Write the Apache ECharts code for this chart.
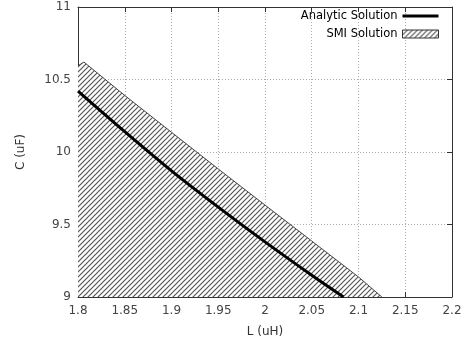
<!DOCTYPE html>
<html>
<head>
<meta charset="utf-8">
<script src="https://cdn.jsdelivr.net/npm/echarts@6/dist/echarts.min.js"></script>
<style>
  html, body { margin: 0; padding: 0; background: #fff; }
  #chart { width: 468px; height: 346px; }
</style>
</head>
<body>
<div id="chart"></div>
<script>
// analytic solution
const analyticL = [1.8, 1.85, 1.9, 1.95, 2.0, 2.05, 2.084];
const analyticC = [10.42, 10.14, 9.87, 9.62, 9.38, 9.15, 9.0];

// upper edge of the SMI band (filled down to the bottom axis)
const smiL = [1.8, 1.8064, 1.85, 1.9, 1.95, 2.0, 2.05, 2.1, 2.125];
const smiC = [10.595, 10.62, 10.39, 10.136, 9.883, 9.634, 9.386, 9.138, 9.0];

const xTicks = [1.8, 1.85, 1.9, 1.95, 2.0, 2.05, 2.1, 2.15, 2.2];
const yTicks = [9, 9.5, 10, 10.5, 11];

const font = "DejaVu Sans";
const axisColor = "#333";

// hatch pattern "////"
function makeHatch() {
  const s = 5;
  const c = document.createElement("canvas");
  c.width = s;
  c.height = s;
  const ctx = c.getContext("2d");
  ctx.fillStyle = "#fff";
  ctx.fillRect(0, 0, s, s);
  ctx.strokeStyle = "#555";
  ctx.lineWidth = 1.2;
  ctx.beginPath();
  ctx.moveTo(-1, 1); ctx.lineTo(1, -1);
  ctx.moveTo(0, s); ctx.lineTo(s, 0);
  ctx.moveTo(s - 1, s + 1); ctx.lineTo(s + 1, s - 1);
  ctx.stroke();
  return c;
}
const hatch = { image: makeHatch(), repeat: "repeat" };

const chart = echarts.init(document.getElementById("chart"));

const splitLine = { show: true, lineStyle: { color: "#aaa", type: [1, 2], width: 1 } };

const fmt = v => {
  const t = xTicks.concat(yTicks).find(k => Math.abs(k - v) < 1e-9);
  return t === undefined ? "" : String(+t.toFixed(2));
};

// thin bar inside the legend box (tiny corner dots keep the box size)
const lineIcon = "path://M0,0H0.01V0.01H0Z M0,2.5H36V5.5H0Z M35.99,7.99H36V8H35.99Z";

const option = {
  animation: false,
  grid: { left: 78, right: 16, top: 7, bottom: 49 },
  legend: {
    orient: "vertical",
    right: 24,
    top: 5,
    align: "right",
    itemWidth: 36,
    itemHeight: 8,
    itemGap: 6,
    textStyle: { fontFamily: font, fontSize: 11.5, color: "#000" },
    data: [
      { name: "Analytic Solution", icon: lineIcon, itemStyle: { color: "#000" } },
      { name: "SMI Solution", icon: "rect", itemStyle: { color: hatch, borderColor: "#333", borderWidth: 1 } }
    ]
  },
  xAxis: [
    {
      type: "value", min: 1.8, max: 2.2, interval: 0.05,
      name: "L (uH)", nameLocation: "middle", nameGap: 29,
      nameTextStyle: { fontFamily: font, fontSize: 12, color: "#333" },
      axisLine: { lineStyle: { color: axisColor } },
      axisTick: { inside: true, length: 5, lineStyle: { color: axisColor } },
      axisLabel: { fontFamily: font, fontSize: 12, color: "#444", margin: 8, formatter: fmt },
      splitLine: splitLine
    },
    {
      type: "value", min: 1.8, max: 2.2, interval: 0.05, position: "top",
      axisLine: { lineStyle: { color: axisColor } },
      axisTick: { inside: true, length: 5, lineStyle: { color: axisColor } },
      axisLabel: { show: false },
      splitLine: { show: false }
    }
  ],
  yAxis: [
    {
      type: "value", min: 9, max: 11, interval: 0.5,
      name: "C (uF)", nameLocation: "middle", nameGap: 51,
      nameTextStyle: { fontFamily: font, fontSize: 12, color: "#333" },
      axisLine: { show: true, lineStyle: { color: axisColor } },
      axisTick: { show: true, inside: true, length: 5, lineStyle: { color: axisColor } },
      axisLabel: { fontFamily: font, fontSize: 12, color: "#444", margin: 7, formatter: fmt },
      splitLine: splitLine
    },
    {
      type: "value", min: 9, max: 11, interval: 0.5, position: "right",
      axisLine: { show: true, lineStyle: { color: axisColor } },
      axisTick: { show: true, inside: true, length: 5, lineStyle: { color: axisColor } },
      axisLabel: { show: false },
      splitLine: { show: false }
    }
  ],
  series: [
    {
      name: "SMI Solution",
      type: "line",
      symbol: "none",
      z: 2,
      data: smiL.map((l, i) => [l, smiC[i]]),
      lineStyle: { color: "#444", width: 1 },
      itemStyle: { color: hatch },
      areaStyle: { color: hatch, opacity: 1, origin: "start" }
    },
    {
      name: "Analytic Solution",
      type: "line",
      symbol: "none",
      smooth: 0.3,
      z: 3,
      data: analyticL.map((l, i) => [l, analyticC[i]]),
      lineStyle: { color: "#000", width: 3 },
      itemStyle: { color: "#000" }
    }
  ]
};

chart.setOption(option);
</script>
</body>
</html>
